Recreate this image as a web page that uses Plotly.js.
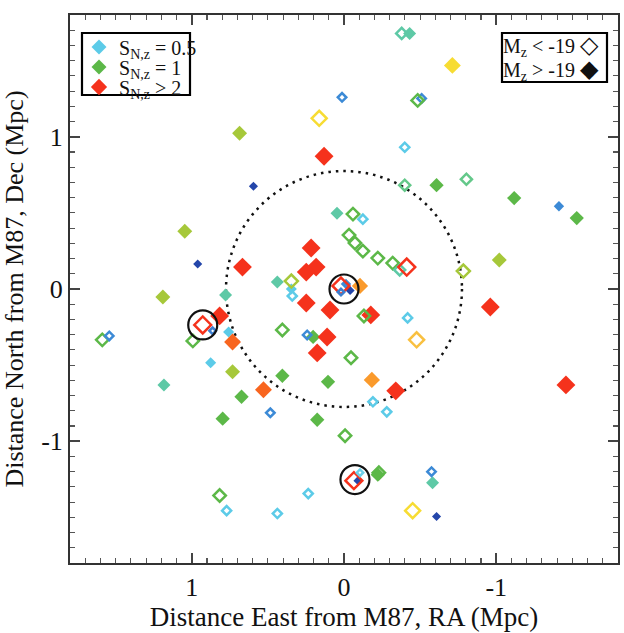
<!DOCTYPE html>
<html>
<head>
<meta charset="utf-8">
<script src="https://cdn.plot.ly/plotly-3.0.1.min.js"></script>
<style>html,body{margin:0;padding:0;background:#fff;}#plot{width:624px;height:633px;}</style>
</head>
<body>
<div id="plot"></div>
<script>
// ---- data (Mpc offsets from M87; x = East, y = North) ----
// faint galaxies (M_z > -19), filled symbols
const faintX = [0.595,0.961,-0.608,-0.092,-1.412,-0.013,-0.040,0.046,-0.431,0.438,0.778,1.183,-0.582,0.346,0.758,0.876,-0.608,-1.118,-1.529,0.203,0.405,0.105,0.673,0.797,0.176,-0.222,0.686,1.046,1.190,0.732,-1.020,-0.712,-0.105,0.529,-0.183,0.131,0.216,0.183,0.248,0.667,0.248,0.092,-0.176,0.111,0.176,0.817,0.732,-0.961,-0.340,-1.458];
const faintY = [0.675,0.164,-1.495,-1.259,0.544,0.033,-0.010,0.498,1.679,0.046,-0.039,-0.630,-1.272,0.000,-0.282,-0.485,0.682,0.597,0.466,-0.315,-0.570,-0.610,-0.708,-0.852,-0.859,-1.220,1.023,0.380,-0.052,-0.544,0.190,1.469,0.020,-0.662,-0.597,0.872,0.269,0.144,0.111,0.144,-0.092,-0.138,-0.170,-0.315,-0.420,-0.177,-0.348,-0.118,-0.669,-0.630];
const faintClass = ['DB','DB','DB','DB','B','B','DB','T','T','T','T','T','T','LB','LB','LB','G','G','G','G','G','G','G','G','G','G','YG','YG','YG','YG','YG','Y','O','OR','O','R','R','R','R','R','R','R','R','R','R','R','OR','R','R','R'];

// bright galaxies (M_z < -19), open symbols
const brightX = [0.013,-0.510,-0.484,-0.379,0.163,-0.399,-0.399,-0.804,-0.059,-0.124,-0.033,-0.072,-0.124,-0.222,-0.320,-0.366,-0.412,-0.784,0.346,0.340,0.020,0.020,-0.131,-0.418,-0.477,0.405,0.242,-0.046,1.588,1.542,0.928,0.863,0.993,-0.190,-0.281,0.484,-0.007,-0.065,-0.105,-0.229,-0.575,-0.451,0.817,0.771,0.235,0.438];
const brightY = [1.259,1.252,1.239,1.679,1.121,0.931,0.682,0.721,0.492,0.459,0.354,0.302,0.249,0.203,0.170,0.125,0.144,0.118,0.052,-0.046,0.020,-0.020,-0.177,-0.190,-0.334,-0.269,-0.302,-0.452,-0.334,-0.308,-0.236,-0.275,-0.341,-0.741,-0.807,-0.813,-0.964,-1.259,-1.207,-1.207,-1.200,-1.456,-1.357,-1.456,-1.344,-1.475];
const brightClass = ['B','B','G','T','Y','LB','TG','TG','G','LB','G','G','G','G','G','T','R','YG','YG','LB','R','Bs','G','LB','YO','G','B','G','G','B','R','Bs','G','LB','LB','B','G','R','LBs','G','B','Y','G','LB','LB','LB'];

// central galaxies marked with circles
const circX = [0.0, 0.928, -0.072];
const circY = [0.0, -0.236, -1.252];

// dotted circle radius (Mpc)
const ringR = 0.775;

// legend entries
const legendLabels = ['S<sub>N,z</sub> = 0.5','S<sub>N,z</sub> = 1','S<sub>N,z</sub> > 2'];
const legendClass = ['LB','G','R'];
const magLabels = ['M<sub>z</sub> &lt; -19 ', 'M<sub>z</sub> &gt; -19 '];
const magGlyphs = ['◇','◆'];

// tick labels
const xTickVals = [1,0,-1];
const xTickText = ['1','0','-1'];
const yTickVals = [1,0,-1];
const yTickText = ['1','0','-1'];

// ---- styles ----
const style = {
  DB:{c:'#2446aa',s:7},
  B:{c:'#3c8ad6',s:8},
  Bs:{c:'#3c7fd0',s:6.5},
  LB:{c:'#5ccbe8',s:8.5},
  LBs:{c:'#6cd0ea',s:6.5},
  T:{c:'#5ec9a6',s:10},
  TG:{c:'#64c88a',s:10},
  G:{c:'#5cb848',s:11},
  YG:{c:'#a6c83a',s:11.5},
  Y:{c:'#f7dc33',s:13},
  YO:{c:'#f9c040',s:13},
  O:{c:'#fa9a2c',s:12.5},
  OR:{c:'#f8651f',s:13},
  R:{c:'#f5321c',s:14.5}
};
const FONT = 'Liberation Serif, Times New Roman, serif';

const traces = [];
traces.push({
  x: faintX, y: faintY, type:'scatter', mode:'markers', showlegend:false, hoverinfo:'skip',
  marker:{symbol:'diamond', opacity:1, color: faintClass.map(k=>style[k].c), size: faintClass.map(k=>style[k].s), line:{width:0}}
});
traces.push({
  x: brightX, y: brightY, type:'scatter', mode:'markers', showlegend:false, hoverinfo:'skip',
  marker:{symbol:'diamond-open', opacity:1, color: brightClass.map(k=>style[k].c), size: brightClass.map(k=>style[k].s-1.5), line:{width:2.5, color: brightClass.map(k=>style[k].c)}}
});
traces.push({
  x: circX, y: circY, type:'scatter', mode:'markers', showlegend:false, hoverinfo:'skip',
  marker:{symbol:'circle-open', opacity:1, color:'#111', size:29, line:{width:2.2, color:'#111'}}
});
const legNames = ['legend','legend2','legend3'];
legendLabels.forEach((lab,i)=>{
  traces.push({x:[null], y:[null], type:'scatter', mode:'markers', name: lab, legend: legNames[i], showlegend:true,
    marker:{symbol:'diamond', color: style[legendClass[i]].c, size: i===2?12.5:11.5, line:{width:0}}});
});

const axisCommon = {
  showgrid:false, zeroline:false, showline:true, linecolor:'#333', linewidth:2, mirror:'ticks',
  ticks:'inside', ticklen:10, tickwidth:1.5, tickcolor:'#444',
  tickfont:{family:FONT, size:26, color:'#111'},
  minor:{dtick:0.1, ticks:'inside', ticklen:5, tickwidth:1.2, tickcolor:'#555'},
  fixedrange:true
};

// pixel helpers for paper coordinates of the legend boxes
const PL=70, PW=548, PT=15, PH=548;
const px = v => (v-PL)/PW;
const py = v => (PT+PH-v)/PH;

const legendBase = {xanchor:'left', yanchor:'middle', bgcolor:'rgba(0,0,0,0)', borderwidth:0,
  font:{family:FONT, size:20, color:'#111'}, itemwidth:30, tracegroupgap:0};
const legendYs = [47, 67, 87];

const layout = {
  width:624, height:633,
  margin:{l:70, r:6, t:15, b:70},
  paper_bgcolor:'#fff', plot_bgcolor:'#fff',
  font:{family:FONT, color:'#111'},
  xaxis: Object.assign({}, axisCommon, {
    range:[1.8,-1.8], tickmode:'array', tickvals:xTickVals, ticktext:xTickText,
    title:{text:'Distance East from M87, RA (Mpc)', standoff:6, font:{family:FONT, size:27, color:'#111'}}
  }),
  yaxis: Object.assign({}, axisCommon, {
    range:[-1.8,1.8], tickmode:'array', tickvals:yTickVals, ticktext:yTickText,
    title:{text:'Distance North from M87, Dec (Mpc)', font:{family:FONT, size:26, color:'#111'}}
  }),
  showlegend:true,
  legend: Object.assign({}, legendBase, {x:px(79), y:py(legendYs[0])}),
  legend2: Object.assign({}, legendBase, {x:px(79), y:py(legendYs[1])}),
  legend3: Object.assign({}, legendBase, {x:px(79), y:py(legendYs[2])}),
  shapes:[
    {type:'circle', xref:'x', yref:'y', x0:-ringR, x1:ringR, y0:-ringR, y1:ringR,
      line:{color:'#111', width:2.5, dash:'2.5px,5px'}, layer:'below'},
    {type:'rect', xref:'paper', yref:'paper', x0:px(82), x1:px(190), y0:py(95), y1:py(33),
      line:{color:'#000', width:2.2}, fillcolor:'#fff', layer:'above'},
    {type:'rect', xref:'paper', yref:'paper', x0:px(502), x1:px(607), y0:py(82), y1:py(33),
      line:{color:'#000', width:2.2}, fillcolor:'#fff', layer:'above'}
  ],
  annotations: magLabels.map((t,i)=>({
    xref:'paper', yref:'paper', x:px(601), y:py(i===0?46:70), xanchor:'right', yanchor:'middle', showarrow:false,
    text: t + '<span style="font-size:24px">' + magGlyphs[i] + '</span>',
    font:{family:FONT, size:20, color:'#111'}
  }))
};

Plotly.newPlot('plot', traces, layout, {staticPlot:true, displayModeBar:false});
</script>
</body>
</html>
